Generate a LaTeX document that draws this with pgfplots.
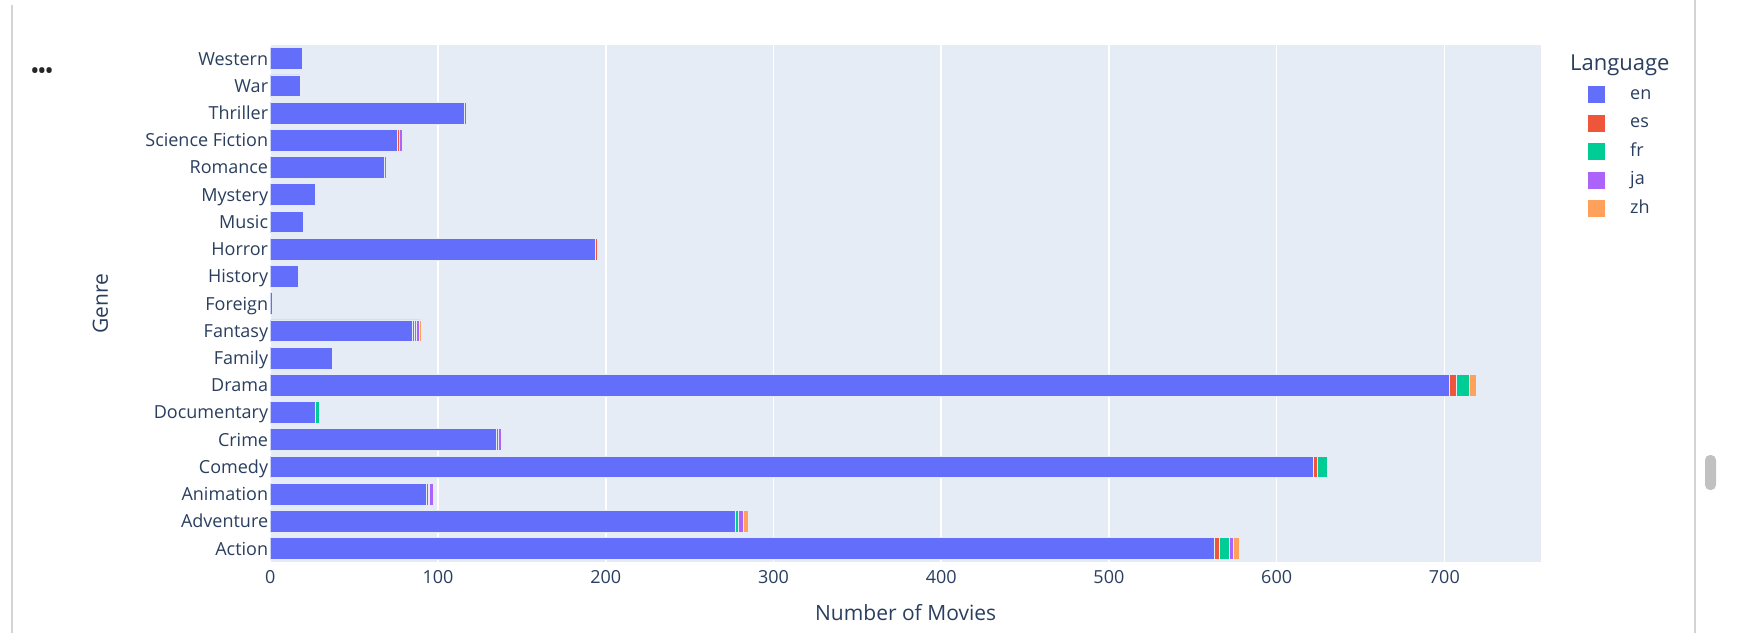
\documentclass[border=0pt]{standalone}
\usepackage{fontspec}
\setmainfont{Open Sans}
\usepackage{pgfplots}
\usepackage{pgfplotstable}
\pgfplotsset{compat=1.18}
\definecolor{cEn}{HTML}{636EFA}
\definecolor{cEs}{HTML}{EF553B}
\definecolor{cFr}{HTML}{00CC96}
\definecolor{cJa}{HTML}{AB63FA}
\definecolor{cZh}{HTML}{FFA15A}
\definecolor{txt}{HTML}{2A3F5F}
\definecolor{plotbg}{HTML}{E5ECF6}
\definecolor{frame}{HTML}{D4D4D4}
\definecolor{scroll}{HTML}{C1C1C1}

\pgfplotstableread{
idx en es fr ja zh
0 563 3 6 2 4
1 277 0 2 3 3
2 93 1 1 2 1
3 622 2 6 0 0
4 135 1 0 2 0
5 27 0 2 0 0
6 703 4 8 0 4
7 37 0 0 0 0
8 85 1 1 2 1
9 1 0 0 0 0
10 17 0 0 0 0
11 194 1 0 0 0
12 20 0 0 0 0
13 27 0 0 0 0
14 68 0 1 0 0
15 76 1 0 2 0
16 116 1 0 0 0
17 18 0 0 0 0
18 19 0 0 0 0
}\genredata

\begin{document}
\begin{tikzpicture}[x=1pt,y=1pt]
\path[use as bounding box, fill=white] (0,0) rectangle (1737,633);
\draw[frame, line width=1.5pt] (12,0) -- (12,628);
\draw[frame, line width=1.5pt] (1695,0) -- (1695,633);
\fill[scroll, rounded corners=5pt] (1705,143) rectangle (1716,178);
\node[text=black!85, inner sep=0pt] at (42,560) {\fontsize{19}{19}\selectfont\textbf{•••}};
\node[anchor=west, inner sep=0pt, text=txt] at (1570,568) {\fontsize{22}{26}\selectfont Language};
\begin{axis}[
  at={(270.3pt,70.8pt)}, anchor=south west,
  scale only axis, width=1270.7pt, height=517.2pt,
  xbar stacked, bar width=0.8,
  xmin=0, xmax=757.6, ymin=-0.5, ymax=18.5,
  axis background/.style={fill=plotbg},
  axis line style={draw=none},
  major tick length=0pt,
  xmajorgrids, grid style={white, line width=1.5pt},
  xtick={0,100,...,700},
  ytick={0,...,18},
  yticklabels={Action,Adventure,Animation,Comedy,Crime,Documentary,Drama,Family,Fantasy,Foreign,History,Horror,Music,Mystery,Romance,Science Fiction,Thriller,War,Western},
  /pgf/number format/assume math mode=true,
  tick label style={font=\fontsize{18}{22}\selectfont, text=txt},
  xticklabel style={anchor=north, inner sep=0pt, text height=12.9pt, text depth=0pt, yshift=-7.8pt},
  yticklabel style={anchor=east, inner sep=0pt, text height=12.9pt, text depth=0pt, xshift=-2pt},
  xlabel={Number of Movies},
  ylabel={Genre},
  xlabel style={font=\fontsize{21}{25}\selectfont, text=txt, at={(axis description cs:0.5,0)}, anchor=center, yshift=-50.5pt},
  ylabel style={font=\fontsize{21}{25}\selectfont, text=txt, at={(axis description cs:-0.1338,0.5)}, anchor=center, rotate=0},
  legend image code/.code={\fill[#1,draw=none] (0pt,-8.5pt) rectangle (17pt,8.5pt);},
  legend style={at={(axis description cs:1.0370,0.9205)}, anchor=north west, draw=none, fill=none, inner sep=0pt,
    font=\fontsize{18}{22}\selectfont, text=txt, row sep=11.5pt, column sep=25pt,
    nodes={inner sep=0pt, text height=13pt, text depth=4pt}},
  legend cell align=left,
]
\addplot[fill=cEn, draw=plotbg, line width=0.75pt] table[x=en, y=idx] {\genredata};
\addplot[fill=cEs, draw=plotbg, line width=0.75pt] table[x=es, y=idx] {\genredata};
\addplot[fill=cFr, draw=plotbg, line width=0.75pt] table[x=fr, y=idx] {\genredata};
\addplot[fill=cJa, draw=plotbg, line width=0.75pt] table[x=ja, y=idx] {\genredata};
\addplot[fill=cZh, draw=plotbg, line width=0.75pt] table[x=zh, y=idx] {\genredata};
\legend{en,es,fr,ja,zh}
\end{axis}
\end{tikzpicture}
\end{document}
